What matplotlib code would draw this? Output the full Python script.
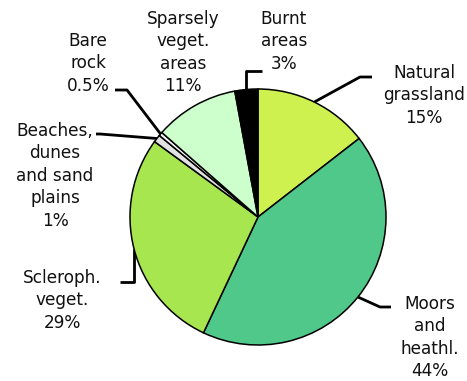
import numpy as np
import matplotlib.pyplot as plt

# Land cover shares (%), clockwise from the top
labels = ['Natural\ngrassland', 'Moors\nand\nheathl.', 'Scleroph.\nveget.',
          'Beaches,\ndunes\nand sand\nplains', 'Bare\nrock', 'Sparsely\nveget.\nareas',
          'Burnt\nareas']
values = [15, 44, 29, 1, 0.5, 11, 3]
value_text = ['15%', '44%', '29%', '1%', '0.5%', '11%', '3%']
colors = ['#CEF150', '#50C88A', '#A8E64F', '#E2E2E2', '#F4F4F4', '#CCFFCC', '#000000']

# layout in pixel units (y up)
W, H = 467, 381
cx, cy, R = 258, H - 217, 128

fig = plt.figure(figsize=(W / 100, H / 100), dpi=100)
ax = fig.add_axes([0, 0, 1, 1])

wedges, _ = ax.pie(values, colors=colors, startangle=90, counterclock=False,
                   center=(cx, cy), radius=R, frame=True,
                   wedgeprops=dict(edgecolor='black', linewidth=1.1))
ax.set_xlim(0, W)
ax.set_ylim(0, H)
ax.set_aspect('equal')
ax.axis('off')

# text anchors (center x, top y in image pixels) and leader elbows
text_pos = [(424, 64), (430, 295), (62, 269), (55, 122), (88, 32), (183, 10), (284, 10)]
elbows = [
    [(360, 77), (372, 77)],
    [(380, 307), (391, 307)],
    [(None, 282), (120, 282)],
    [(100, 134), (96, 134)],
    [(127, 90), (115, 90)],
    None,
    [(None, 71), (262, 71)],
]

for w, lab, vt, (tx, ty), elb in zip(wedges, labels, value_text, text_pos, elbows):
    ax.text(tx, H - ty, lab + '\n' + vt, ha='center', va='top', fontsize=12.2,
            linespacing=1.32, color='#111111')
    if elb is None:
        continue
    # leader line starts at the wedge's mid-angle on the rim
    mid = np.deg2rad((w.theta1 + w.theta2) / 2)
    ex, ey = cx + R * np.cos(mid), cy + R * np.sin(mid)
    xs, ys = [ex], [ey]
    for px, py in elb:
        xs.append(ex if px is None else px)
        ys.append(H - py)
    ax.plot(xs, ys, color='black', linewidth=2.0, solid_capstyle='butt', zorder=0)

fig.savefig('out.png', dpi=100)
